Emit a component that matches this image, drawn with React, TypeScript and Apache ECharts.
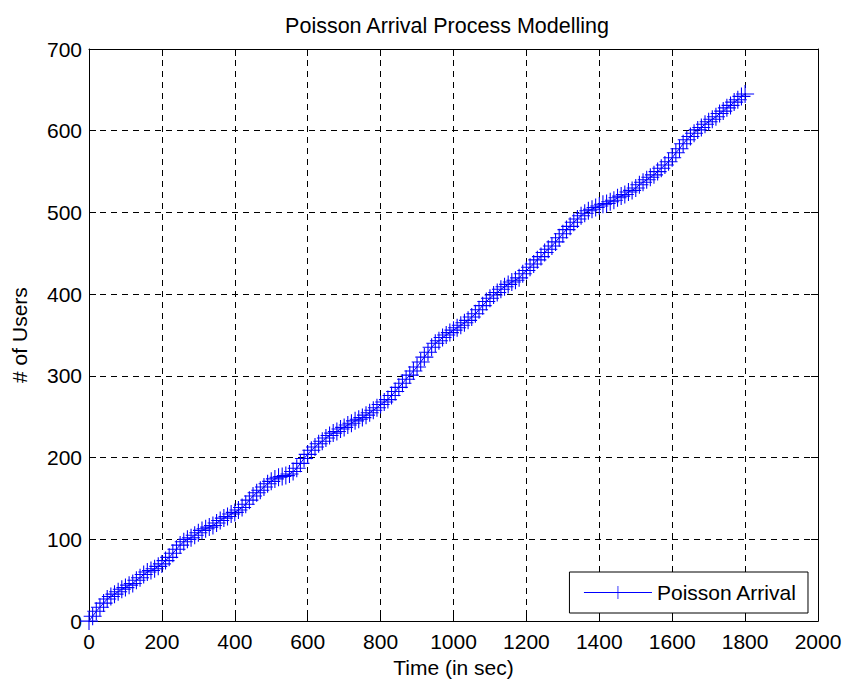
import React, { useEffect, useRef } from "react";
import * as echarts from "echarts";

const seriesName = "Poisson Arrival";
const titleText = "Poisson Arrival Process Modelling";
const xName = "Time (in sec)";
const yName = "# of Users";

// arrival readings: time (s) and cumulative number of users
const times = [
  0, 10, 20, 30, 40, 50, 60, 70, 80, 90,
  100, 110, 120, 130, 140, 150, 160, 170, 180, 190,
  200, 210, 220, 230, 240, 250, 260, 270, 280, 290,
  300, 310, 320, 330, 340, 350, 360, 370, 380, 390,
  400, 410, 420, 430, 440, 450, 460, 470, 480, 490,
  500, 510, 520, 530, 540, 550, 560, 570, 580, 590,
  600, 610, 620, 630, 640, 650, 660, 670, 680, 690,
  700, 710, 720, 730, 740, 750, 760, 770, 780, 790,
  800, 810, 820, 830, 840, 850, 860, 870, 880, 890,
  900, 910, 920, 930, 940, 950, 960, 970, 980, 990,
  1000, 1010, 1020, 1030, 1040, 1050, 1060, 1070, 1080, 1090,
  1100, 1110, 1120, 1130, 1140, 1150, 1160, 1170, 1180, 1190,
  1200, 1210, 1220, 1230, 1240, 1250, 1260, 1270, 1280, 1290,
  1300, 1310, 1320, 1330, 1340, 1350, 1360, 1370, 1380, 1390,
  1400, 1410, 1420, 1430, 1440, 1450, 1460, 1470, 1480, 1490,
  1500, 1510, 1520, 1530, 1540, 1550, 1560, 1570, 1580, 1590,
  1600, 1610, 1620, 1630, 1640, 1650, 1660, 1670, 1680, 1690,
  1700, 1710, 1720, 1730, 1740, 1750, 1760, 1770, 1780, 1790,
  1800,
];
const users = [
  0, 6, 12, 17, 22, 27, 30, 33, 36, 39,
  41, 44, 46, 50, 53, 57, 60, 62, 64, 67,
  70, 74, 78, 83, 88, 93, 97, 100, 102, 105,
  108, 111, 113, 115, 117, 120, 123, 126, 128, 131,
  133, 136, 139, 143, 148, 153, 157, 160, 164, 168,
  171, 174, 176, 177, 178, 180, 183, 187, 193, 199,
  204, 209, 213, 217, 220, 224, 227, 230, 232, 235,
  237, 240, 242, 245, 247, 249, 252, 255, 258, 261,
  265, 268, 271, 276, 281, 286, 291, 296, 301, 306,
  311, 317, 323, 329, 335, 340, 343, 347, 350, 353,
  356, 359, 362, 365, 368, 372, 376, 381, 386, 391,
  395, 399, 402, 406, 409, 412, 415, 417, 420, 425,
  429, 433, 437, 442, 446, 451, 455, 459, 464, 469,
  474, 479, 483, 488, 492, 496, 499, 502, 504, 506,
  508, 510, 511, 513, 515, 518, 520, 522, 525, 527,
  530, 534, 537, 540, 543, 546, 550, 554, 558, 562,
  567, 573, 578, 584, 589, 593, 597, 601, 604, 608,
  611, 614, 617, 621, 624, 628, 631, 635, 638, 642,
  645,
];

const xMin = 0, xMax = 2000, xStep = 200;
const yMin = 0, yMax = 700, yStep = 100;

const FONT = '"Liberation Sans", Arial, Helvetica, sans-serif';
const CROSS = "path://M4.7,0h0.6v10h-0.6zM0,4.7h10v0.6h-10z";

export default function App() {
  const ref = useRef<HTMLDivElement>(null);
  useEffect(() => {
    if (!ref.current) return;
    const chart = echarts.init(ref.current, null, { renderer: "svg" });
    const data = times.map((t, i) => [t, users[i]]);
    const axisLine = { show: true, onZero: false, lineStyle: { color: "#000", width: 1 } };
    const axisTick = { show: true, inside: true, length: 7, lineStyle: { color: "#000", width: 1 } };
    const label = { color: "#000", fontSize: 21, fontFamily: FONT };
    const plain = (v: number) => String(v);
    chart.setOption({
      animation: false,
      backgroundColor: "#fff",
      title: {
        text: titleText,
        left: 442,
        top: 10,
        textAlign: "center",
        textStyle: { color: "#000", fontSize: 21.5, fontWeight: "normal", fontFamily: FONT },
      },
      grid: { left: 89, top: 49, right: 28, bottom: 59, show: false },
      legend: {
        data: [seriesName],
        right: 38,
        bottom: 70,
        backgroundColor: "#fff",
        borderColor: "#000",
        borderWidth: 1,
        padding: [10, 11, 10, 14],
        itemWidth: 68,
        itemHeight: 16,
        itemGap: 0,
        lineStyle: { width: 1 },
        textStyle: { color: "#000", fontSize: 21, fontFamily: FONT },
      },
      xAxis: [
        {
          type: "value", min: xMin, max: xMax, interval: xStep, position: "bottom",
          axisLine, axisTick,
          axisLabel: { ...label, margin: 10, formatter: plain },
          splitLine: { show: true, lineStyle: { color: "#000", width: 1, type: [6, 5] } },
          name: xName, nameLocation: "middle", nameGap: 25,
          nameTextStyle: { ...label },
        },
        {
          type: "value", min: xMin, max: xMax, interval: xStep, position: "top",
          axisLine, axisTick, axisLabel: { show: false }, splitLine: { show: false },
        },
      ],
      yAxis: [
        {
          type: "value", min: yMin, max: yMax, interval: yStep, position: "left",
          axisLine, axisTick,
          axisLabel: { ...label, margin: 7, formatter: plain },
          splitLine: { show: true, lineStyle: { color: "#000", width: 1, type: [6, 5] } },
          name: yName, nameLocation: "middle", nameGap: 59, nameRotate: 90,
          nameTextStyle: { ...label },
        },
        {
          type: "value", min: yMin, max: yMax, interval: yStep, position: "right",
          axisLine, axisTick, axisLabel: { show: false }, splitLine: { show: false },
        },
      ],
      series: [
        {
          name: seriesName,
          type: "line",
          data,
          xAxisIndex: 0,
          yAxisIndex: 0,
          clip: false,
          symbol: CROSS,
          symbolSize: 18,
          showSymbol: true,
          showAllSymbol: true,
          lineStyle: { color: "#0000ff", width: 1 },
          itemStyle: { color: "#0000ff" },
        },
      ],
    });
    return () => chart.dispose();
  }, []);
  return (
    <div
      ref={ref}
      style={{ position: "fixed", left: 0, top: 0, width: 846, height: 683, background: "#fff" }}
    />
  );
}
